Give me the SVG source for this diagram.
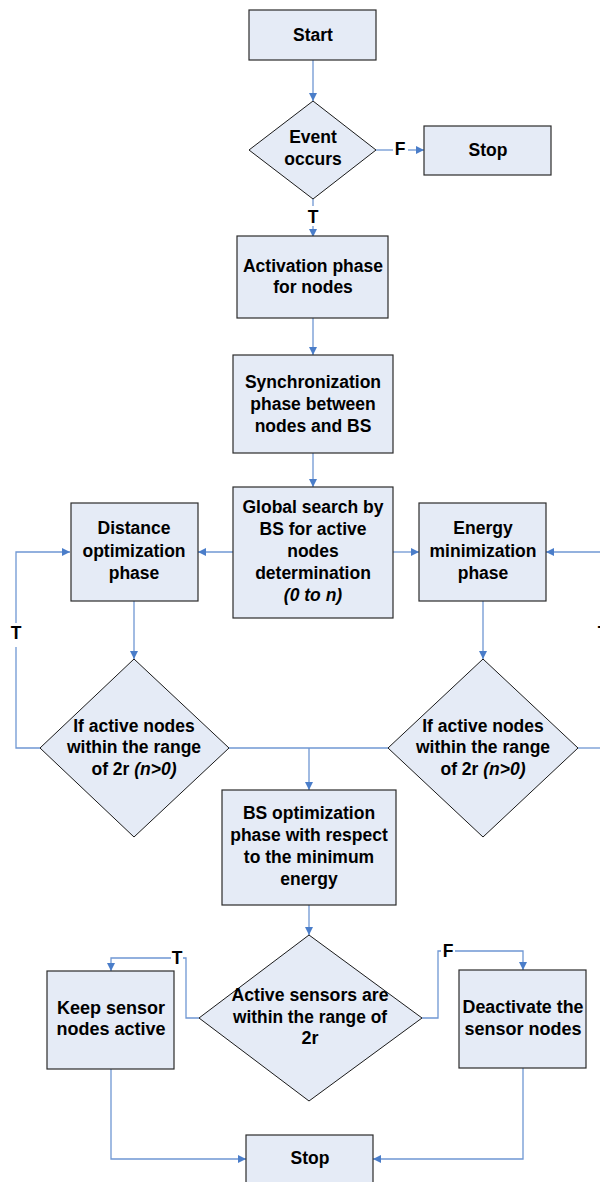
<svg xmlns="http://www.w3.org/2000/svg" width="600" height="1182" viewBox="0 0 600 1182">
<style>
.box{fill:#E5EBF6;stroke:#2b2b2b;stroke-width:1.2}
.dia{fill:#E5EBF6;stroke:#1a1a1a;stroke-width:1}
.t{font-family:"Liberation Sans",Arial,sans-serif;font-weight:bold;font-size:17.5px;fill:#000;text-anchor:middle}
.tb{font-size:18px}
.lbl{font-family:"Liberation Sans",Arial,sans-serif;font-weight:bold;font-size:17.5px;fill:#000;text-anchor:middle}
.c{fill:none;stroke:#6F97D3;stroke-width:1.3}
</style>
<defs>
<marker id="ah" viewBox="0 0 10 10" refX="10" refY="5" markerWidth="8" markerHeight="8" markerUnits="userSpaceOnUse" orient="auto">
<path d="M0,0 L10,5 L0,10 z" fill="#4A7DC9"/>
</marker>
</defs>
<g id="connectors">
<path class="c" d="M313,60 V101" marker-end="url(#ah)"/>
<path class="c" d="M376,150 H393"/>
<path class="c" d="M408,150 H424" marker-end="url(#ah)"/>
<path class="c" d="M313,199 V206"/>
<path class="c" d="M313,226 V237" marker-end="url(#ah)"/>
<path class="c" d="M313,318 V355" marker-end="url(#ah)"/>
<path class="c" d="M313,453 V487" marker-end="url(#ah)"/>
<path class="c" d="M233,552 H198" marker-end="url(#ah)"/>
<path class="c" d="M393,552 H419" marker-end="url(#ah)"/>
<path class="c" d="M134,601 V659" marker-end="url(#ah)"/>
<path class="c" d="M483,601 V659" marker-end="url(#ah)"/>
<path class="c" d="M40,748 H16 V647"/>
<path class="c" d="M16,623 V552 H70" marker-end="url(#ah)"/>
<path class="c" d="M578,748 H604"/>
<path class="c" d="M604,552 H546" marker-end="url(#ah)"/>
<path class="c" d="M229,748 H388"/>
<path class="c" d="M309,748 V790" marker-end="url(#ah)"/>
<path class="c" d="M309,905 V935" marker-end="url(#ah)"/>
<path class="c" d="M199,1018 H186 V958 H183"/>
<path class="c" d="M171,958 H111 V971" marker-end="url(#ah)"/>
<path class="c" d="M422,1018 H438 V951 H441"/>
<path class="c" d="M455,951 H523 V970" marker-end="url(#ah)"/>
<path class="c" d="M111,1069 V1159 H246" marker-end="url(#ah)"/>
<path class="c" d="M523,1068 V1159 H373" marker-end="url(#ah)"/>
<text class="lbl" x="400" y="155">F</text>
<text class="lbl" x="313" y="223">T</text>
<text class="lbl" x="16" y="639">T</text>
<text class="lbl" x="603" y="639">T</text>
<text class="lbl" x="177" y="964">T</text>
<text class="lbl" x="448" y="957">F</text>
</g>
<g id="start">
<rect class="box" x="249" y="10" width="127" height="50"/>
<text class="t" x="313" y="41">Start</text>
</g>
<g id="event">
<polygon class="dia" points="313,101 376,150 313,199 249,150"/>
<text class="t" x="313" y="143">Event</text>
<text class="t" x="313" y="165">occurs</text>
</g>
<g id="stop1">
<rect class="box" x="424" y="126" width="127" height="49"/>
<text class="t" x="488" y="156">Stop</text>
</g>
<g id="activation">
<rect class="box" x="237" y="236" width="151" height="82"/>
<text class="t" x="313" y="272">Activation phase</text>
<text class="t" x="313" y="293">for nodes</text>
</g>
<g id="sync">
<rect class="box" x="233" y="355" width="160" height="98"/>
<text class="t" x="313" y="388">Synchronization</text>
<text class="t" x="313" y="410">phase between</text>
<text class="t" x="313" y="432">nodes and BS</text>
</g>
<g id="global">
<rect class="box" x="233" y="487" width="160" height="131"/>
<text class="t" x="313" y="513">Global search by</text>
<text class="t" x="313" y="535">BS for active</text>
<text class="t" x="313" y="557">nodes</text>
<text class="t" x="313" y="579">determination</text>
<text class="t" x="313" y="601" font-style="italic">(0 to n)</text>
</g>
<g id="distance">
<rect class="box" x="71" y="503" width="127" height="98"/>
<text class="t" x="134" y="534">Distance</text>
<text class="t" x="134" y="557">optimization</text>
<text class="t" x="134" y="579">phase</text>
</g>
<g id="energy">
<rect class="box" x="419" y="503" width="127" height="98"/>
<text class="t" x="483" y="534">Energy</text>
<text class="t" x="483" y="557">minimization</text>
<text class="t" x="483" y="579">phase</text>
</g>
<g id="check-left">
<polygon class="dia" points="134,659 229,748 134,837 40,748"/>
<text class="t" x="134" y="732">If active nodes</text>
<text class="t" x="134" y="753">within the range</text>
<text class="t" x="134" y="775">of 2r <tspan font-style="italic">(n&gt;0)</tspan></text>
</g>
<g id="check-right">
<polygon class="dia" points="483,659 578,748 483,837 388,748"/>
<text class="t" x="483" y="732">If active nodes</text>
<text class="t" x="483" y="753">within the range</text>
<text class="t" x="483" y="775">of 2r <tspan font-style="italic">(n&gt;0)</tspan></text>
</g>
<g id="bs-opt">
<rect class="box" x="222" y="790" width="174" height="115"/>
<text class="t" x="309" y="819">BS optimization</text>
<text class="t" x="309" y="841">phase with respect</text>
<text class="t" x="309" y="863">to the minimum</text>
<text class="t" x="309" y="885">energy</text>
</g>
<g id="active-check">
<polygon class="dia" points="309,935 422,1018 309,1101 199,1018"/>
<text class="t tb" x="310" y="1001" textLength="157" lengthAdjust="spacingAndGlyphs">Active sensors are</text>
<text class="t tb" x="310" y="1023" textLength="154" lengthAdjust="spacingAndGlyphs">within the range of</text>
<text class="t tb" x="310" y="1044">2r</text>
</g>
<g id="keep">
<rect class="box" x="47" y="971" width="127" height="98"/>
<text class="t tb" x="111" y="1014">Keep sensor</text>
<text class="t tb" x="111" y="1035">nodes active</text>
</g>
<g id="deactivate">
<rect class="box" x="459" y="970" width="127" height="98"/>
<text class="t tb" x="523" y="1013" textLength="121" lengthAdjust="spacingAndGlyphs">Deactivate the</text>
<text class="t tb" x="523" y="1035">sensor nodes</text>
</g>
<g id="stop2">
<rect class="box" x="246" y="1135" width="127" height="60"/>
<text class="t" x="310" y="1164">Stop</text>
</g>
</svg>
